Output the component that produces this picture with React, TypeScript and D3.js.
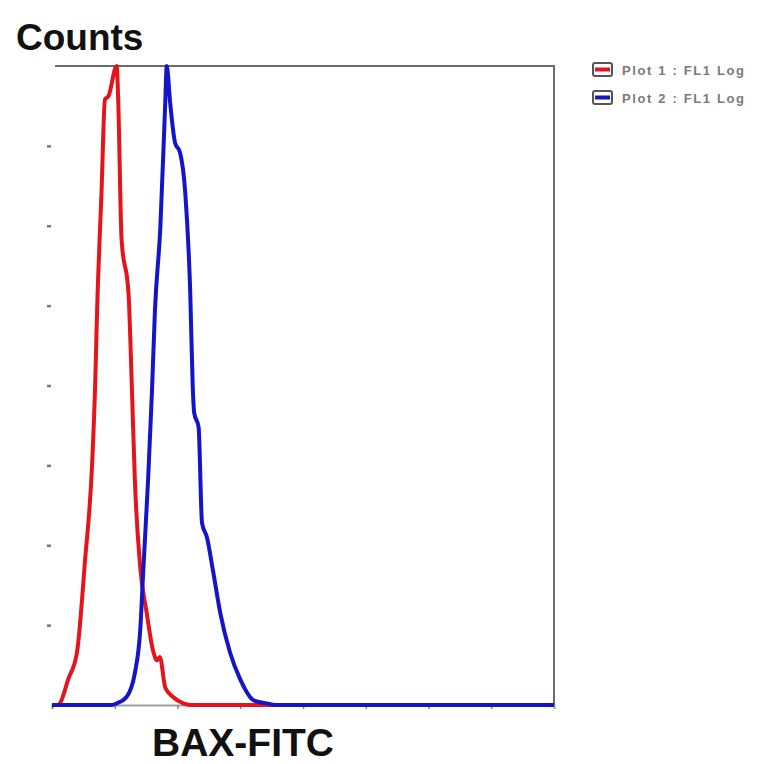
import { useEffect, useRef } from "react";
import * as d3 from "d3";

// histogram traces (channel 0..1024, counts 0..400)
const redChannel = [0, 12, 16, 33, 51, 67, 82, 88, 92, 101, 108, 115, 132, 135, 142, 156, 163, 169, 180, 193, 207, 214, 220, 231, 247, 268, 282, 1024];
const redCounts = [0, 0, 1, 16, 33, 89, 152, 200, 247, 321, 379, 381, 400, 379, 291, 258, 198, 141, 86, 58, 33, 28, 30, 11, 5, 1, 0, 0];

const blueChannel = [0, 122, 132, 152, 169, 180, 186, 196, 204, 210, 221, 231, 234, 241, 251, 261, 272, 282, 287, 290, 299, 306, 316, 329, 343, 363, 384, 411, 438, 455, 1024];
const blueCounts = [0, 0, 1, 5, 20, 47, 83, 141, 197, 247, 299, 377, 400, 377, 352, 346, 320, 258, 200, 183, 174, 114, 105, 83, 58, 33, 16, 3, 1, 0, 0];

const xTicks = [0, 128, 256, 384, 512, 640, 768, 896];
const yTicks = [0, 50, 100, 150, 200, 250, 300, 350];

const legendLabels = ["Plot 1 : FL1 Log", "Plot 2 : FL1 Log"];
const seriesColors = ["#e3141c", "#1414c8"];

const W = 764;
const H = 764;
const margin = { top: 66, right: 210, bottom: 59, left: 52 };

const App = () => {
  const svgRef = useRef(null);

  useEffect(() => {
    const svg = d3.select(svgRef.current);
    svg.selectAll("*").remove();

    const x = d3.scaleLinear().domain([0, 1024]).range([margin.left, W - margin.right]);
    const y = d3.scaleLinear().domain([0, 400]).range([H - margin.bottom, margin.top]);

    svg.append("rect").attr("width", W).attr("height", H).attr("fill", "#fff");

    // bottom axis (gray baseline + small ticks)
    svg.append("g")
      .attr("transform", `translate(0,${y(0)})`)
      .call(d3.axisBottom(x).tickValues(xTicks).tickSize(4).tickFormat(() => ""))
      .call(g => g.select(".domain").attr("stroke", "#a0a0a0").attr("stroke-width", 2))
      .call(g => g.selectAll(".tick line").attr("stroke", "#888").attr("stroke-width", 1.5));

    // left ticks only, no axis line
    svg.append("g")
      .attr("transform", `translate(${margin.left - 1},0)`)
      .call(d3.axisLeft(y).tickValues(yTicks.slice(1)).tickSize(4).tickFormat(() => ""))
      .call(g => g.select(".domain").remove())
      .call(g => g.selectAll(".tick line").attr("stroke", "#777").attr("stroke-width", 2.5));

    // top and right frame
    svg.append("path")
      .attr("d", `M${x(0) + 3},${y(400)}H${x(1024)}V${y(0)}`)
      .attr("fill", "none")
      .attr("stroke", "#6a6a6a")
      .attr("stroke-width", 2);

    const line = d3.line<[number, number]>()
      .x(d => x(d[0]))
      .y(d => y(d[1]))
      .curve(d3.curveMonotoneX);

    const traces = [
      d3.zip(redChannel, redCounts) as [number, number][],
      d3.zip(blueChannel, blueCounts) as [number, number][],
    ];

    traces.forEach((pts, i) => {
      svg.append("path")
        .attr("d", line(pts))
        .attr("fill", "none")
        .attr("stroke", seriesColors[i])
        .attr("stroke-width", 4)
        .attr("stroke-linejoin", "round");
    });

    // titles
    svg.append("text")
      .attr("x", 16)
      .attr("y", 50)
      .attr("font-family", "Liberation Sans, Arial, sans-serif")
      .attr("font-size", 37)
      .attr("font-weight", "bold")
      .attr("fill", "#111")
      .text("Counts");

    svg.append("text")
      .attr("x", 152)
      .attr("y", 756)
      .attr("font-family", "Liberation Sans, Arial, sans-serif")
      .attr("font-size", 39)
      .attr("font-weight", "bold")
      .attr("fill", "#111")
      .text("BAX-FITC");

    // legend
    const legend = svg.append("g").attr("transform", "translate(592,63)");
    legendLabels.forEach((label, i) => {
      const row = legend.append("g").attr("transform", `translate(0,${i * 28})`);
      row.append("rect")
        .attr("x", 1).attr("y", 0).attr("width", 19).attr("height", 13)
        .attr("rx", 2)
        .attr("fill", "#fff")
        .attr("stroke", "#555")
        .attr("stroke-width", 2);
      row.append("line")
        .attr("x1", 3).attr("x2", 18).attr("y1", 6.5).attr("y2", 6.5)
        .attr("stroke", seriesColors[i])
        .attr("stroke-width", 4);
      row.append("text")
        .attr("x", 30)
        .attr("y", 11.5)
        .attr("font-family", "Liberation Sans, Arial, sans-serif")
        .attr("font-size", 13)
        .attr("font-weight", "bold")
        .attr("textLength", 122)
        .attr("lengthAdjust", "spacing")
        .attr("fill", "#7a7a7a")
        .text(label);
    });
  }, []);

  return (
    <svg
      ref={svgRef}
      width={W}
      height={H}
      style={{ position: "absolute", left: 0, top: 0 }}
    ></svg>
  );
};

export default App;
